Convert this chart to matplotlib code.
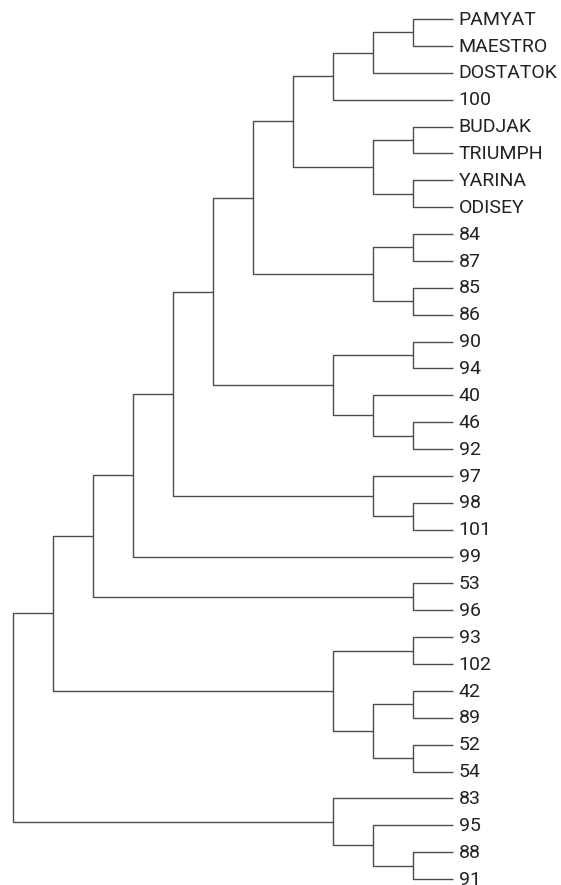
import matplotlib
matplotlib.use("Agg")
import matplotlib.pyplot as plt

# Leaf labels, top to bottom
leaves = ["PAMYAT", "MAESTRO", "DOSTATOK", "100", "BUDJAK", "TRIUMPH",
          "YARINA", "ODISEY", "84", "87", "85", "86", "90", "94", "40",
          "46", "92", "97", "98", "101", "99", "53", "96", "93", "102",
          "42", "89", "52", "54", "83", "95", "88", "91"]

# Merge steps: indices < len(leaves) are leaves, others are earlier merges
merge_left = [0, 33, 34, 4, 6, 36, 35, 8, 10, 40, 39, 12, 15, 14, 44, 43,
              18, 17, 48, 51, 21, 52, 23, 25, 27, 56, 55, 54, 31, 30, 29, 60]
merge_right = [1, 2, 3, 5, 7, 37, 38, 9, 11, 41, 42, 13, 16, 45, 46, 47,
               19, 49, 50, 20, 22, 53, 24, 26, 28, 57, 58, 59, 32, 61, 62, 63]
merge_height = [1, 2, 3, 1, 1, 2, 4, 1, 1, 2, 5, 1, 1, 2, 3, 6,
                1, 2, 7, 8, 1, 9, 1, 1, 1, 2, 3, 10, 1, 2, 3, 11]

n = len(leaves)
W, H = 561, 885
fig = plt.figure(figsize=(W / 100, H / 100), dpi=100)
x_root_px, x_leaf_px = 13, 453
y_top_px, y_bot_px = 19, 879
ax = fig.add_axes([x_root_px / W, 1 - y_bot_px / H,
                   (x_leaf_px - x_root_px) / W, (y_bot_px - y_top_px) / H])
ax.set_xlim(max(merge_height), 0)
ax.set_ylim(n - 1, 0)
ax.axis("off")

pos = {i: (0.0, float(i)) for i in range(n)}
line_kw = dict(color="#4d4d4d", lw=1.0, clip_on=False, solid_capstyle="butt")
for k, (a, b, h) in enumerate(zip(merge_left, merge_right, merge_height)):
    ha, ya = pos[a]
    hb, yb = pos[b]
    ax.plot([ha, h, h, hb], [ya, ya, yb, yb], **line_kw)
    pos[n + k] = (float(h), (ya + yb) / 2)

for i, name in enumerate(leaves):
    ax.annotate(name, xy=(0, i), xytext=(4, -0.5), textcoords="offset points",
                va="center", ha="left", fontsize=14, color="#222222",
                family=["Roboto", "DejaVu Sans"],
                annotation_clip=False)

fig.savefig("out.png", dpi=100, facecolor="white")
